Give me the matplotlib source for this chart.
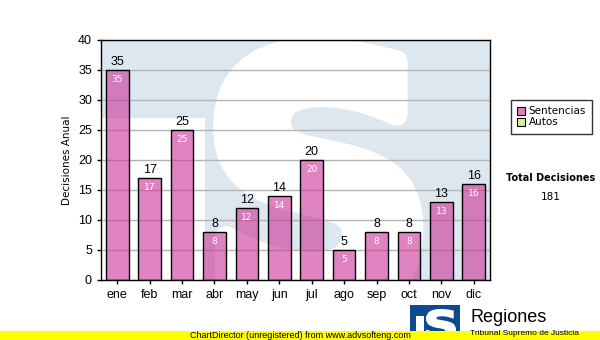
import matplotlib
matplotlib.use("Agg")
import matplotlib.pyplot as plt
from matplotlib.patches import Rectangle, PathPatch
from matplotlib.textpath import TextPath
from matplotlib.font_manager import FontProperties
from matplotlib.transforms import Affine2D
from matplotlib.lines import Line2D

# Datos
meses = ["ene", "feb", "mar", "abr", "may", "jun", "jul", "ago", "sep", "oct", "nov", "dic"]
sentencias = [35, 17, 25, 8, 12, 14, 20, 5, 8, 8, 13, 16]
total_decisiones = 181

bar_color = (0.80, 0.20, 0.60, 0.6)
autos_color = "#d6ec9c"
bg_blue = "#dde7f0"


def s_path(x0, x1, y0, y1):
    """Return the glyph 'S' as a path stretched into the box (x0,x1,y0,y1)."""
    tp = TextPath((0, 0), "S", size=1, prop=FontProperties(family="DejaVu Sans", weight="bold"))
    ext = tp.get_extents()
    tr = (Affine2D().translate(-ext.x0, -ext.y0)
          .scale((x1 - x0) / ext.width, (y1 - y0) / ext.height)
          .translate(x0, y0))
    return tr.transform_path(tp)


fig = plt.figure(figsize=(6, 3.4), dpi=100)
ax = fig.add_axes([101 / 600, 60 / 340, 389 / 600, 240 / 340])
ax.set_facecolor(bg_blue)

# marca de agua
ax.add_patch(Rectangle((-0.5, 0), 3.2, 27, facecolor="white", edgecolor="none", zorder=0.2))
ax.add_patch(PathPatch(s_path(3.3, 9.1, -5, 38.5), facecolor="white", edgecolor="white",
                       linewidth=16, joinstyle="round", zorder=0.2))

ax.set_axisbelow(True)
ax.yaxis.grid(True, color="#b4b4b4", linewidth=1)

x = range(len(meses))
bars = ax.bar(x, sentencias, width=0.7, color=bar_color, edgecolor="black", linewidth=1, zorder=2)

for xi, v in zip(x, sentencias):
    ax.text(xi, v + 0.3, str(v), ha="center", va="bottom", fontsize=9,
            family="Liberation Sans", color="black", zorder=3)
    ax.text(xi, v - 0.8, str(v), ha="center", va="top", fontsize=6.5,
            family="DejaVu Sans", color="white", zorder=3)

ax.set_xlim(-0.5, len(meses) - 0.5)
ax.set_ylim(0, 40)
ax.set_yticks(range(0, 41, 5))
ax.set_xticks(list(x))
ax.set_xticklabels(meses)
ax.tick_params(axis="both", labelsize=9, length=3, width=1, color="black")
for lab in ax.get_xticklabels() + ax.get_yticklabels():
    lab.set_family("Liberation Sans")
for sp in ax.spines.values():
    sp.set_color("black")
    sp.set_linewidth(1)
ax.set_ylabel("Decisiones Anual", fontsize=7.5, family="DejaVu Sans", labelpad=4)

# leyenda
handles = [
    Line2D([], [], marker="s", linestyle="none", markersize=6, markerfacecolor="#e07fc0",
           markeredgecolor="black", markeredgewidth=0.8, label="Sentencias"),
    Line2D([], [], marker="s", linestyle="none", markersize=6, markerfacecolor=autos_color,
           markeredgecolor="black", markeredgewidth=0.8, label="Autos"),
]
leg = fig.legend(handles=handles, loc="upper left", bbox_to_anchor=(511 / 600, 1 - 100 / 340),
                 frameon=True, fancybox=False, edgecolor="black", fontsize=7.5,
                 handlelength=0.8, handletextpad=0.3, labelspacing=0.1, borderpad=0.6,
                 borderaxespad=0)
leg.get_frame().set_linewidth(1)

fig.text(551 / 600, 1 - 178 / 340, "Total Decisiones", ha="center", va="center",
         fontsize=7, fontweight="bold", family="DejaVu Sans")
fig.text(551 / 600, 1 - 197 / 340, str(total_decisiones), ha="center", va="center",
         fontsize=7.5, family="DejaVu Sans")

# banda amarilla
fig.patches.append(Rectangle((0, 0), 1, 9 / 340, transform=fig.transFigure,
                             facecolor="#ffff00", edgecolor="none", zorder=1))
fig.text(0.5, 4.5 / 340, "ChartDirector (unregistered) from www.advsofteng.com",
         ha="center", va="center", fontsize=6.5, family="Liberation Sans", zorder=3)

# logo
lax = fig.add_axes([410 / 600, 0, 50 / 600, 35 / 340])
lax.set_xlim(0, 50)
lax.set_ylim(0, 35)
lax.axis("off")
lax.add_patch(Rectangle((0, 0), 50, 35, facecolor="#0d4a8e", edgecolor="none"))
lax.add_patch(Rectangle((6, 2), 8, 22, facecolor="white", edgecolor="none"))
lax.add_patch(PathPatch(s_path(17, 45, 1, 30), facecolor="white", edgecolor="white",
                        linewidth=1.5))
fig.text(470 / 600, 1 - 318 / 340, "Regiones", ha="left", va="center",
         fontsize=13, family="Liberation Sans", zorder=3)
fig.text(470 / 600, 1 - 330 / 340, "Tribunal Supremo de Justicia", ha="left", va="top",
         fontsize=6, family="Liberation Sans", zorder=3)

fig.savefig("out.png", dpi=100)
